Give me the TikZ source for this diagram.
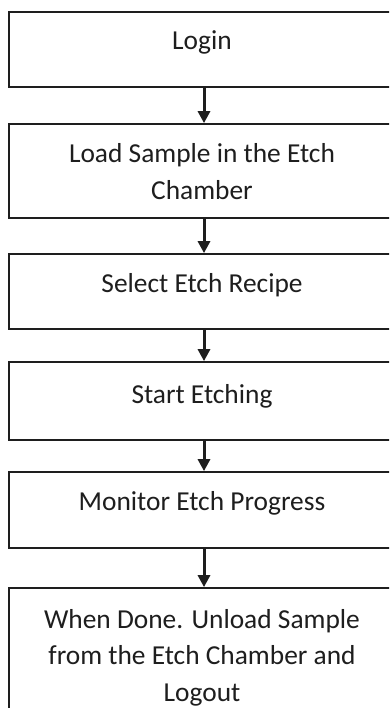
\documentclass[tikz,border=0pt]{standalone}
\usepackage{fontspec}
\setmainfont{Carlito}
\usetikzlibrary{arrows.meta}
\definecolor{ink}{HTML}{1E1E1E}
\tikzset{
  box/.style={draw=ink, line width=1.7bp, fill=white, rectangle, inner sep=0pt, minimum width=390bp},
  lbl/.style={text=ink, anchor=base, align=center, inner sep=0pt, font=\fontsize{27.5}{36.5}\selectfont},
  flow/.style={draw=ink, line width=3bp, -{Triangle[width=12bp,length=12bp]}}
}
\begin{document}
\begin{tikzpicture}[x=1bp,y=-1bp]
\clip (0,0) rectangle (389,708);
\fill[white] (0,0) rectangle (389,708);
\node[box, minimum height=75bp] (b1) at (204,49.5) {};
\node[box, minimum height=94bp] (b2) at (204,171) {};
\node[box, minimum height=75bp] (b3) at (204,291.5) {};
\node[box, minimum height=78bp] (b4) at (204,401) {};
\node[box, minimum height=76bp] (b5) at (204,510) {};
\node[box, minimum height=130bp] (b6) at (204,653) {};
\node[lbl] (t1) at (202,50) {Login};
\node[lbl] (t2) at (202,199) {Load Sample in the Etch\\Chamber};
\node[lbl] (t3) at (202,292) {Select Etch Recipe};
\node[lbl] (t4) at (202,403) {Start Etching};
\node[lbl] (t5) at (202,510) {Monitor Etch Progress};
\node[lbl] (t6) at (202,701) {When Done. Unload Sample\\from the Etch Chamber and\\Logout};
\draw[flow] (b1.south) -- (b2.north);
\draw[flow] (b2.south) -- (b3.north);
\draw[flow] (b3.south) -- (b4.north);
\draw[flow] (b4.south) -- (b5.north);
\draw[flow] (b5.south) -- (b6.north);
\end{tikzpicture}
\end{document}
